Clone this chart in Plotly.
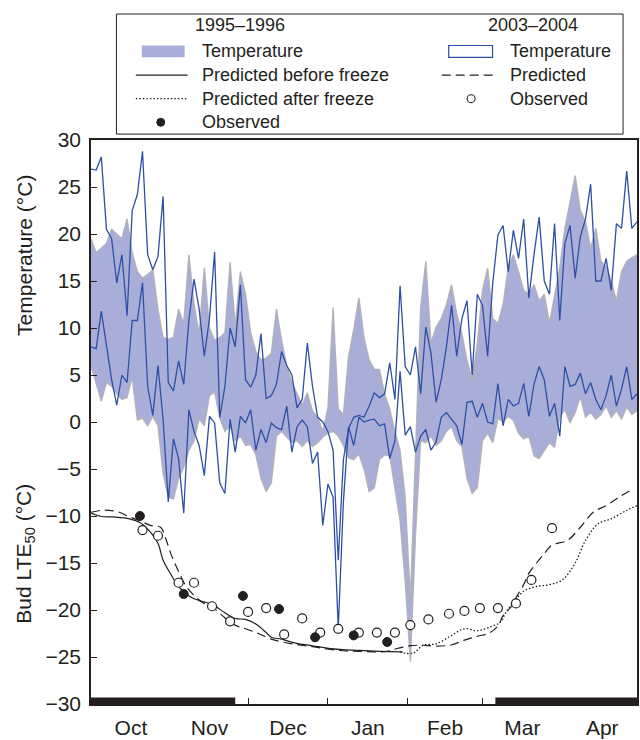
import pandas as pd
import plotly.graph_objects as go

# ---------------- data ----------------
season_start = "1995-10-01"
temp_days = list(range(0, 213, 2))

# 1995-1996 daily temperature envelope (deg C)
temp95_max = [19.5, 18.0, 18.5, 19.0, 20.5, 20.0, 19.5, 21.6, 18.0, 16.0, 15.3, 15.7, 16.2, 12.0, 9.0,
              8.8, 9.0, 12.0, 10.5, 17.8, 12.5, 9.4, 16.4, 10.0, 8.7, 9.0, 9.5, 17.0, 10.2, 16.0,
              13.6, 9.5, 7.5, 6.6, 6.8, 7.3, 12.0, 8.7, 6.0, 4.2, 3.0, 1.8, 3.1, 1.2, 0.5,
              -1.0, 1.5, 12.2, 1.4, 0.8, 7.0, 9.8, 13.2, 9.0, 6.6, 5.6, 5.6, 3.0, 1.4, -1.0,
              -3.0, -8.0, -19.0, -4.0, 12.2, 17.1, 8.4, 10.1, 11.0, 12.5, 14.6, 11.5, 9.4, 6.6, 4.5,
              8.4, 14.0, 16.4, 11.0, 10.5, 12.5, 16.4, 17.8, 16.0, 14.0, 13.6, 14.6, 12.9, 13.6, 10.5,
              13.5, 16.4, 20.6, 23.5, 26.2, 22.5, 21.3, 18.5, 20.6, 17.1, 16.5, 15.0, 12.9, 16.0, 17.1,
              17.5, 17.8]
temp95_min = [6.0, 4.0, 2.2, 4.2, 3.8, 3.0, 2.4, 2.6, 4.8, 0.2, 0.4, -0.4, 0.6, -0.4, -5.5,
              -8.0, -8.2, -6.0, -4.8, -3.0, -2.0, 0.4, -0.4, 2.8, 3.2, 0.4, -1.0, -0.4, -2.0, -1.5,
              -2.5, -2.4, -3.5, -6.0, -7.4, -6.5, -1.5, -1.0, -1.6, -2.2, -2.0, -2.6, -2.0, -2.6, -2.2,
              -1.6, -1.2, -1.0, -1.5, -2.5, -3.8, -4.0, -3.4, -5.0, -7.4, -7.0, -4.0, -3.5, -3.6, -7.0,
              -10.5, -17.0, -25.5, -12.0, -2.0, -2.2, -1.5, -2.5, -2.0, -1.0, -0.5, -2.0, -2.6, -6.0, -7.6,
              -7.0, -2.0, -1.2, -2.2, 0.4, 0.0, 0.6, 0.2, -1.2, -1.8, -1.5, -3.6, -3.9, -3.0, -2.2,
              -2.7, 0.5, 1.3, -0.1, 1.0, 2.7, 0.5, 1.0, 0.3, 0.8, 1.7, 0.5, 1.2, 0.3, 1.6,
              0.8, 1.2]

# 2003-2004 daily maximum / minimum temperature (deg C)
temp03_max = [26.9, 26.8, 28.2, 20.5, 19.5, 14.8, 17.8, 11.3, 22.5, 24.2, 28.8, 17.8, 16.2, 17.6, 24.0,
              4.2, 3.3, 6.5, 4.0, 10.8, 15.2, 12.0, 7.0, 11.0, 18.1, 0.5, 3.8, 10.0, 8.0, 14.6,
              4.5, 3.7, 5.0, 9.4, 2.5, 2.8, 4.0, 7.5, 6.0, 5.0, 1.5, 2.4, 8.4, 3.8, 0.5,
              0.0, -1.0, -3.0, -14.7, -4.0, -0.7, 0.5, 0.7, 0.5, 1.7, 3.1, 2.6, 3.0, 6.3, 2.4,
              14.5, 5.9, 5.0, 8.0, 3.0, 10.1, 7.3, 2.1, 4.5, 8.0, 12.4, 7.0, 11.0, 12.9, 5.0,
              13.6, 12.4, 7.0, 14.8, 19.9, 20.9, 16.0, 20.4, 17.4, 21.6, 13.2, 17.8, 21.8, 15.0, 13.6,
              21.1, 10.8, 19.0, 20.9, 15.3, 19.7, 21.6, 25.3, 15.0, 15.0, 17.4, 14.0, 21.1, 20.6, 26.7,
              20.6, 21.3]
temp03_min = [8.0, 7.8, 11.8, 8.0, 4.5, 1.8, 5.0, 4.2, 10.8, 10.8, 14.8, 3.8, 0.7, 6.0, 0.3,
              -8.5, -1.8, -3.9, -9.7, 1.3, -1.0, -2.5, -5.7, 0.6, -0.1, -6.5, -7.6, 0.3, -3.2, 0.6,
              -0.1, 1.3, -3.0, -0.8, -2.2, -0.1, -0.6, -0.8, 1.7, -3.2, -0.5, 0.2, -0.5, -4.4, -3.2,
              -11.0, -6.6, -8.0, -22.0, -8.5, -0.5, -2.5, 0.5, 0.0, 0.2, 0.3, -0.4, -0.2, -3.9, -2.0,
              5.4, -1.4, -0.5, -3.2, -1.5, -0.8, -3.0, -2.1, 0.5, 1.0, 0.3, -0.4, -2.4, 2.1, 2.2,
              0.5, 2.0, 0.0, -0.2, 4.1, -0.4, 2.4, 1.7, 2.0, 4.1, 0.6, 4.0, 5.9, 4.5, 0.6,
              2.0, -1.5, 5.9, 3.8, 4.0, 5.2, 3.0, 4.2, 2.4, 1.3, 2.8, 5.0, 1.7, 3.5, 5.9,
              2.4, 3.0]

# Bud LTE50 (deg C)
pred95_before_days = [0, 4, 9, 15, 19, 23, 26, 28, 31, 34, 38, 42, 47, 52, 56, 60, 64, 68, 70, 74,
                      79, 86, 93, 104, 112, 121]
pred95_before = [-9.7, -10.05, -10.1, -10.3, -10.7, -11.7, -12.9, -14.7, -16.2, -17.5, -18.5, -19.0,
                 -19.4, -20.3, -20.9, -21.0, -21.5, -22.4, -22.9, -23.1, -23.5, -23.8, -24.1, -24.3,
                 -24.4, -24.45]
pred95_after_days = [120, 125, 129, 134, 140, 145, 150, 155, 159, 161, 164, 168, 173, 178, 183, 188,
                     192, 197, 202, 208, 212]
pred95_after = [-24.45, -24.6, -23.75, -23.6, -22.7, -22.0, -22.2, -21.8, -21.3, -20.3, -19.2, -18.0,
                -17.5, -17.3, -16.8, -15.0, -12.6, -10.8, -10.3, -9.4, -8.9]
pred03_days = [0, 4, 7, 11, 15, 19, 23, 27, 29, 31, 34, 37, 41, 45, 48, 51, 55, 60, 65, 70, 78, 86,
               96, 104, 115, 119, 124, 129, 134, 140, 145, 150, 155, 158, 160, 163, 165, 168, 170,
               173, 176, 179, 185, 190, 195, 200, 205, 210]
pred03 = [-9.6, -9.4, -9.4, -9.6, -10.1, -10.5, -11.0, -11.2, -12.4, -14.0, -15.9, -17.5, -18.7,
          -19.5, -19.9, -20.6, -21.5, -22.0, -22.5, -23.1, -23.6, -23.9, -24.3, -24.4, -24.4, -24.1,
          -23.8, -23.75, -23.85, -23.7, -23.2, -22.8, -22.4, -21.7, -20.6, -19.7, -18.7, -17.3,
          -16.1, -15.0, -14.0, -13.1, -12.6, -11.2, -9.6, -8.9, -8.0, -7.2]
obs95_days = [19, 36, 59, 73, 87, 102, 115]
obs95 = [-10.0, -18.3, -18.5, -19.9, -22.9, -22.7, -23.4]
obs03_days = [20, 26, 34, 40, 47, 54, 61, 68, 75, 82, 89, 96, 104, 111, 118, 124, 131, 139, 145,
              151, 158, 165, 171, 179]
obs03 = [-11.5, -12.1, -17.1, -17.1, -19.6, -21.2, -20.2, -19.8, -22.6, -20.9, -22.4, -22.0, -22.4,
         -22.4, -22.4, -21.6, -21.0, -20.4, -20.1, -19.8, -19.8, -19.3, -16.8, -11.3]

# periods marked by black bars on the date axis
bar_periods = [("1995-10-01", "1995-11-26"), ("1996-03-06", "1996-04-30")]

month_ticks_start = "1995-10-01"
x_range = ["1995-10-01", "1996-04-30"]
y_ticks = list(range(-30, 31, 5))

# ---------------- styling ----------------
FONT = "Liberation Sans, Arial, Helvetica, sans-serif"
INK = "#231f20"
LAVENDER = "#a9aed8"
BLUE = "#2f4fa5"
EDGE = "rgba(175,175,180,0.9)"

base = pd.Timestamp(season_start)


def dates(days):
    return [base + pd.Timedelta(days=d) for d in days]


fig = go.Figure()
tx = dates(temp_days)
fig.add_trace(go.Scatter(x=tx, y=temp95_min, mode="lines", line=dict(color=EDGE, width=1.4),
                         showlegend=False, hoverinfo="skip"))
fig.add_trace(go.Scatter(x=tx, y=temp95_max, mode="lines", line=dict(color=EDGE, width=1.4),
                         fill="tonexty", fillcolor=LAVENDER, showlegend=False, hoverinfo="skip"))
fig.add_trace(go.Scatter(x=tx, y=temp03_max, mode="lines", line=dict(color=BLUE, width=1.3),
                         showlegend=False))
fig.add_trace(go.Scatter(x=tx, y=temp03_min, mode="lines", line=dict(color=BLUE, width=1.3),
                         showlegend=False))
fig.add_trace(go.Scatter(x=dates(pred95_before_days), y=pred95_before, mode="lines",
                         line=dict(color=INK, width=1.2, shape="spline"), showlegend=False))
fig.add_trace(go.Scatter(x=dates(pred95_after_days), y=pred95_after, mode="lines",
                         line=dict(color=INK, width=1.3, dash="1.5px,2px", shape="spline"),
                         showlegend=False))
fig.add_trace(go.Scatter(x=dates(pred03_days), y=pred03, mode="lines",
                         line=dict(color=INK, width=1.2, dash="9px,5px", shape="spline"),
                         showlegend=False))
fig.add_trace(go.Scatter(x=dates(obs03_days), y=obs03, mode="markers",
                         marker=dict(size=9, color="white", line=dict(color=INK, width=1.2)),
                         showlegend=False))
fig.add_trace(go.Scatter(x=dates(obs95_days), y=obs95, mode="markers",
                         marker=dict(size=9, color=INK, line=dict(color=INK, width=1)),
                         showlegend=False))

shapes = []
for a, b in bar_periods:
    shapes.append(dict(type="rect", xref="x", yref="y", x0=a, x1=b, y0=-30, y1=-29.3,
                       fillcolor=INK, line=dict(width=0), layer="above"))

# ---- manual legend (pixel positions converted to paper coords) ----
L, T, W, H = 91, 140, 548, 573


def xp(px):
    return (px - L) / W


def yp(py):
    return (T + H - py) / H


annotations = []
shapes.append(dict(type="rect", xref="paper", yref="paper", x0=xp(116.5), x1=xp(625),
                   y0=yp(134), y1=yp(12), line=dict(color=INK, width=1), fillcolor="white"))

LEG_FS = 18


def leg_text(txt, px, py):
    annotations.append(dict(text=txt, x=xp(px), y=yp(py), xref="paper", yref="paper",
                            xanchor="left", yanchor="middle", showarrow=False,
                            font=dict(family=FONT, size=LEG_FS, color=INK)))


rows = [23, 50, 74, 98, 122]
leg_text("1995–1996", 193, rows[0])
leg_text("2003–2004", 487, rows[0])
# row 1: temperature
shapes.append(dict(type="rect", xref="paper", yref="paper", x0=xp(142), x1=xp(185),
                   y0=yp(rows[1] + 6), y1=yp(rows[1] - 6), fillcolor=LAVENDER, line=dict(width=0)))
leg_text("Temperature", 200, rows[1])
shapes.append(dict(type="rect", xref="paper", yref="paper", x0=xp(450), x1=xp(494),
                   y0=yp(rows[1] + 6), y1=yp(rows[1] - 6), fillcolor="white",
                   line=dict(color=BLUE, width=1.2)))
leg_text("Temperature", 510, rows[1])
# row 2
shapes.append(dict(type="line", xref="paper", yref="paper", x0=xp(136), x1=xp(188),
                   y0=yp(rows[2]), y1=yp(rows[2]), line=dict(color=INK, width=1.2)))
leg_text("Predicted before freeze", 200, rows[2])
shapes.append(dict(type="line", xref="paper", yref="paper", x0=xp(443), x1=xp(497),
                   y0=yp(rows[2]), y1=yp(rows[2]), line=dict(color=INK, width=1.2, dash="9px,5px")))
leg_text("Predicted", 510, rows[2])
# row 3
shapes.append(dict(type="line", xref="paper", yref="paper", x0=xp(136), x1=xp(188),
                   y0=yp(rows[3]), y1=yp(rows[3]), line=dict(color=INK, width=1.2, dash="1.5px,2px")))
leg_text("Predicted after freeze", 200, rows[3])
r = 4
shapes.append(dict(type="circle", xref="paper", yref="paper", x0=xp(472.5 - r), x1=xp(472.5 + r),
                   y0=yp(rows[3] + r), y1=yp(rows[3] - r), fillcolor="white",
                   line=dict(color=INK, width=1.1)))
leg_text("Observed", 510, rows[3])
# row 4
shapes.append(dict(type="circle", xref="paper", yref="paper", x0=xp(161 - r), x1=xp(161 + r),
                   y0=yp(rows[4] + r), y1=yp(rows[4] - r), fillcolor=INK,
                   line=dict(color=INK, width=1)))
leg_text("Observed", 200, rows[4])

# axis titles
annotations.append(dict(text="Temperature (°C)", x=xp(24), y=yp(257.5), xref="paper", yref="paper",
                        textangle=-90, showarrow=False, xanchor="center", yanchor="middle",
                        font=dict(family=FONT, size=21, color=INK)))
annotations.append(dict(text="Bud LTE<sub>50</sub> (°C)", x=xp(25), y=yp(560), xref="paper",
                        yref="paper", textangle=-90, showarrow=False, xanchor="center",
                        yanchor="middle", font=dict(family=FONT, size=21, color=INK)))

fig.update_layout(
    width=640, height=740,
    margin=dict(l=L, r=640 - L - W, t=T, b=740 - T - H, pad=0),
    paper_bgcolor="white", plot_bgcolor="white",
    font=dict(family=FONT, size=21, color=INK),
    showlegend=False,
    shapes=shapes, annotations=annotations,
    xaxis=dict(type="date", range=x_range, dtick="M1", tick0=month_ticks_start,
               tickformat="%b", ticklabelmode="period", ticks="inside", ticklen=6,
               tickcolor=INK, tickwidth=1, showline=True, linecolor=INK, linewidth=1.5,
               mirror=True, showgrid=False, zeroline=False, ticklabelstandoff=4,
               tickfont=dict(family=FONT, size=21, color=INK)),
    yaxis=dict(range=[-30, 30], tickvals=y_ticks, ticks="inside", ticklen=6, tickcolor=INK,
               tickwidth=1, showline=True, linecolor=INK, linewidth=1.5, mirror=True,
               showgrid=False, zeroline=False, ticklabelstandoff=4,
               tickfont=dict(family=FONT, size=21, color=INK)),
)

fig.write_html("out.html")
